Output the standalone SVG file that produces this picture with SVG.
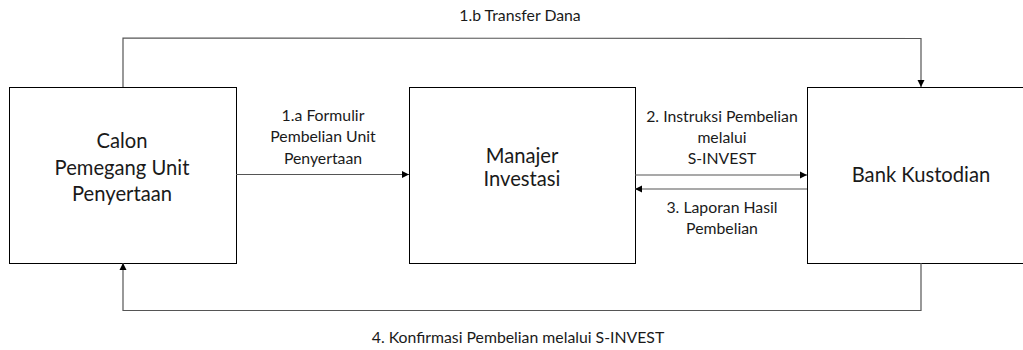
<svg xmlns="http://www.w3.org/2000/svg" width="1023" height="350" viewBox="0 0 1023 350">
<style>
.box{fill:#fff;stroke:#000;stroke-width:1}
.ln{fill:none;stroke:#555;stroke-width:1.2}
.t{font-family:Lato,"Open Sans",sans-serif;fill:#1a1a1a;text-anchor:middle}
.s{font-size:15.8px}
.b{font-size:20.2px}
</style>
<defs>
<marker id="ah" markerWidth="8" markerHeight="8" refX="7" refY="4" orient="auto" markerUnits="userSpaceOnUse">
<path d="M0,0.5 L7,4 L0,7.5 Z" fill="#000"/>
</marker>
</defs>
<rect width="1023" height="350" fill="#fff"/>
<g id="calon">
<rect class="box" x="9.5" y="87.5" width="227" height="176"/>
<text class="t b" x="122" y="147.5">Calon</text>
<text class="t b" x="122" y="175">Pemegang Unit</text>
<text class="t b" x="122" y="201">Penyertaan</text>
</g>
<g id="manajer">
<rect class="box" x="409.5" y="87.5" width="226" height="176"/>
<text class="t b" x="522" y="162.5">Manajer</text>
<text class="t b" x="522" y="186">Investasi</text>
</g>
<g id="bank">
<rect class="box" x="807.5" y="87.5" width="220" height="176"/>
<text class="t b" x="921" y="181.5">Bank Kustodian</text>
</g>
<g id="connectors">
<path class="ln" d="M123,87 L123,38 L921,38.5 L921,87" marker-end="url(#ah)"/>
<path class="ln" d="M236,174.5 L409,174.5" marker-end="url(#ah)"/>
<path class="ln" d="M635,175 L807,175" marker-end="url(#ah)"/>
<path class="ln" d="M807,189 L635,189" marker-end="url(#ah)"/>
<path class="ln" d="M921,263 L921,310.5 L123,310.5 L123,263" marker-end="url(#ah)"/>
</g>
<g id="labels">
<text class="t s" x="520" y="20.5">1.b Transfer Dana</text>
<text class="t s" x="323" y="120.5">1.a Formulir</text>
<text class="t s" x="323" y="142">Pembelian Unit</text>
<text class="t s" x="323" y="163.5">Penyertaan</text>
<text class="t s" x="722" y="121.5">2. Instruksi Pembelian</text>
<text class="t s" x="722" y="143">melalui</text>
<text class="t s" x="722" y="164">S-INVEST</text>
<text class="t s" x="722" y="213">3. Laporan Hasil</text>
<text class="t s" x="722" y="234">Pembelian</text>
<text class="t s" x="518" y="343">4. Konfirmasi Pembelian melalui S-INVEST</text>
</g>
</svg>
